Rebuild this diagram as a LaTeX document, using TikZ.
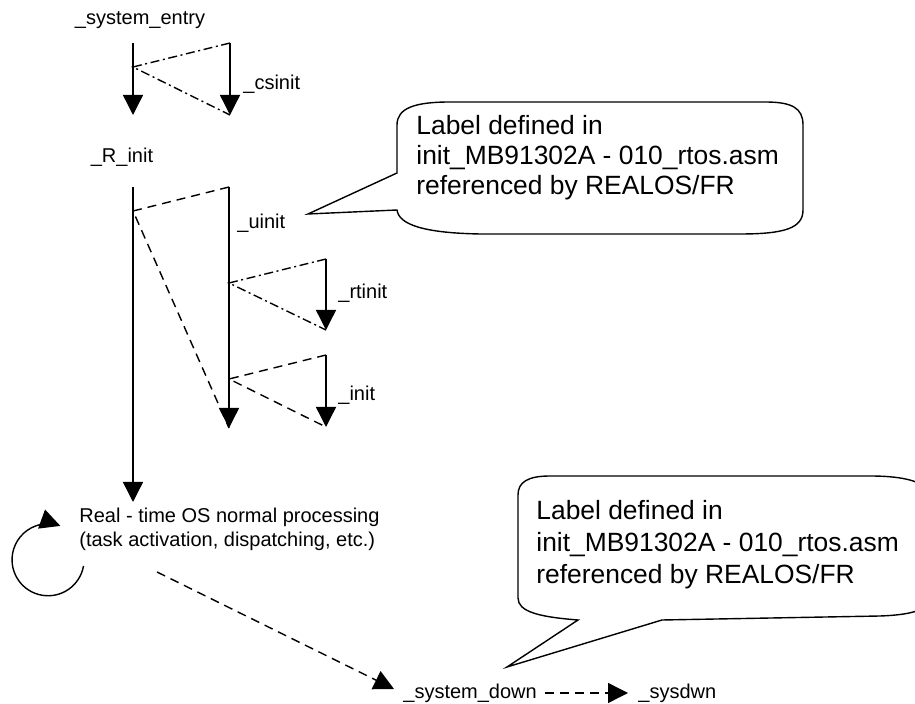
\documentclass[tikz,border=0pt]{standalone}
\usepackage{fontspec}
\setmainfont{Liberation Sans}
\usetikzlibrary{arrows.meta}
\tikzset{
  >={Triangle[length=10pt,width=10pt]},
  call/.style={->,line width=.7pt,draw=black},
  dashcall/.style={call,dash pattern=on 4.5pt off 3pt},
  ret/.style={line width=.7pt,dash pattern=on 4.5pt off 3pt},
  dotret/.style={line width=.7pt,dash pattern=on 4.5pt off 1.8pt on 1pt off 1.8pt},
  lbl/.style={font=\fontsize{10pt}{12pt}\selectfont,inner sep=0pt,anchor=west},
  note/.style={font=\fontsize{13.2pt}{15pt}\selectfont,inner sep=0pt,anchor=west,align=left},
  bubble/.style={line width=.7pt,draw=black,fill=white}
}
\begin{document}
\begin{tikzpicture}[x=.5pt,y=-.5pt]
  \useasboundingbox (0,0) rectangle (915,704);
  \clip (0,0) rectangle (915,704);
  % labels of the routines
  \node[lbl,anchor=center] (entry) at (140,20) {\_system\_entry};
  \node[lbl] (csinit) at (243,84) {\_csinit};
  \node[lbl,anchor=center] (rinit) at (122,157) {\_R\_init};
  \node[lbl] (uinit) at (237,223) {\_uinit};
  \node[lbl] (rtinit) at (338,293) {\_rtinit};
  \node[lbl] (init) at (338,395) {\_init};
  \node[lbl,align=left] (rtos) at (79,529) {Real - time OS normal processing\\(task activation, dispatching, etc.)};
  \node[lbl] (down) at (403,693) {\_system\_down};
  \node[lbl] (sysdwn) at (638,693) {\_sysdwn};
  % _system_entry calls _csinit
  \coordinate (m0) at (133,43); \coordinate (m1) at (133,115);
  \coordinate (c0) at (230,43); \coordinate (c1) at (230,115);
  \coordinate (cf) at (133,67);
  \draw[call] (m0)--(m1);
  \draw[call] (c0)--(c1);
  \draw[dotret] (c0)--(cf)--(c1);
  % _R_init calls _uinit, which calls _rtinit and _init
  \coordinate (r0) at (133,187); \coordinate (r1) at (133,502);
  \coordinate (u0) at (229,187); \coordinate (u1) at (229,428);
  \coordinate (uf) at (133,211);
  \coordinate (t0) at (326,259); \coordinate (t1) at (326,330);
  \coordinate (tf) at (229,283);
  \coordinate (i0) at (326,355); \coordinate (i1) at (326,427);
  \coordinate (if) at (229,379);
  \draw[call] (r0)--(r1);
  \draw[call] (u0)--(u1);
  \draw[ret] (u0)--(uf)--(u1);
  \draw[call] (t0)--(t1);
  \draw[dotret] (t0)--(tf)--(t1);
  \draw[call] (i0)--(i1);
  \draw[ret] (i0)--(if)--(i1);
  % loop of the OS
  \coordinate (lp) at (83.5,566);
  \draw[call] (lp) arc[start angle=10,end angle=290,radius=36];
  % shut down
  \coordinate (d0) at (157,572); \coordinate (d1) at (394,689);
  \draw[dashcall] (d0)--(d1);
  \draw[dashcall,shorten <=4pt,shorten >=5pt] (down)--(sysdwn);
  % callouts
  \draw[bubble] (397,173)--(397,125) .. controls (397,108) and (415,102) .. (450,102)
    --(765,102) .. controls (792,102) and (803,108) .. (803,125)
    --(803,210) .. controls (803,228) and (785,234) .. (740,234)
    --(480,234) .. controls (425,233) and (399,225) .. (397,210)--(308,214)--cycle;
  \node[note] (topnote) at (416,158) {Label defined in\\init\_MB91302A - 010\_rtos.asm\\referenced by REALOS/FR};
  \draw[bubble] (578,620) .. controls (540,617) and (518,612) .. (518,598)
    --(518,495) .. controls (518,482) and (528,476) .. (550,476)
    --(870,476) .. controls (905,476) and (930,482) .. (930,498)
    --(930,598) .. controls (930,610) and (910,615) .. (880,616)
    --(662,620)--(507,667)--cycle;
  \node[note,font=\fontsize{13.2pt}{16pt}\selectfont] (botnote) at (536,545) {Label defined in\\init\_MB91302A - 010\_rtos.asm\\referenced by REALOS/FR};
\end{tikzpicture}
\end{document}
